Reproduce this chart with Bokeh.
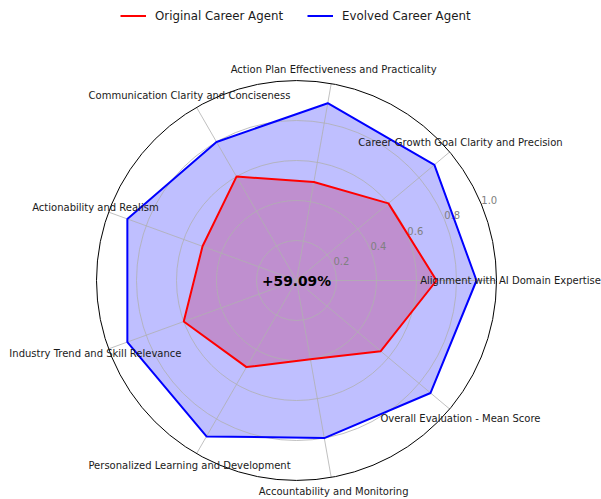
import numpy as np
from bokeh.plotting import figure
from bokeh.models import Range1d, Legend, LegendItem
from bokeh.core.properties import value
from bokeh.embed import file_html
from bokeh.resources import INLINE

categories = [
    "Alignment with AI Domain Expertise",
    "Career Growth Goal Clarity and Precision",
    "Action Plan Effectiveness and Practicality",
    "Communication Clarity and Conciseness",
    "Actionability and Realism",
    "Industry Trend and Skill Relevance",
    "Personalized Learning and Development",
    "Accountability and Monitoring",
    "Overall Evaluation - Mean Score",
]
original = [0.7, 0.6, 0.5, 0.6, 0.5, 0.6, 0.5, 0.4, 0.55]
evolved = [0.9, 0.9, 0.9, 0.8, 0.9, 0.9, 0.9, 0.8, 0.875]
r_ticks = [0.2, 0.4, 0.6, 0.8, 1.0]
r_tick_labels = ["0.2", "0.4", "0.6", "0.8", "1.0"]

W, H = 601, 499
scale = 200.0
cx_px, cy_px = 296, 280
x0 = -cx_px / scale
x1 = (W - cx_px) / scale
y1 = cy_px / scale
y0 = -(H - cy_px) / scale

p = figure(width=W, height=H, output_backend="svg", toolbar_location=None,
           x_range=Range1d(x0, x1), y_range=Range1d(y0, y1),
           x_axis_type=None, y_axis_type=None, min_border=0)
p.outline_line_color = None
p.background_fill_color = "white"
p.border_fill_color = "white"

n = len(categories)
ang = np.linspace(0, 2 * np.pi, n, endpoint=False)

def xy(vals):
    v = np.asarray(vals, dtype=float)
    return list(v * np.cos(ang)), list(v * np.sin(ang))

ox, oy = xy(original)
ex, ey = xy(evolved)

# fills
p.patch(ox, oy, fill_color="red", fill_alpha=0.25, line_color=None)
p.patch(ex, ey, fill_color="blue", fill_alpha=0.25, line_color=None)

# grid circles and spokes
for r in r_ticks[:-1]:
    p.circle(x=[0], y=[0], radius=r, fill_color=None, line_color="#b0b0b0", line_width=0.8)
p.segment(x0=[0] * n, y0=[0] * n, x1=list(np.cos(ang)), y1=list(np.sin(ang)),
          line_color="#b0b0b0", line_width=0.8)

# radial tick labels at 22.5 degrees
ra = np.deg2rad(22.5)
rt = np.asarray(r_ticks)
p.text(x=list(rt * np.cos(ra)), y=list(rt * np.sin(ra)), text=r_tick_labels,
       text_font=value("DejaVu Sans"), text_font_size="10px", text_color="#808080",
       text_align="left", text_baseline="alphabetic", y_offset=-4)

# outlines
r_orig = p.line(ox + [ox[0]], oy + [oy[0]], line_color="red", line_width=2)
r_evo = p.line(ex + [ex[0]], ey + [ey[0]], line_color="blue", line_width=2)

# outer spine
p.circle(x=[0], y=[0], radius=1.0, fill_color=None, line_color="black", line_width=1)

# category labels
lr = 1.07
lx = lr * np.cos(ang)
ly = lr * np.sin(ang)
p.text(x=list(lx), y=list(ly), text=categories,
       text_font=value("DejaVu Sans"), text_font_size="10px", text_color="#1a1a1a",
       text_align="center", text_baseline="middle")

# center improvement text
pct = (evolved[-1] - original[-1]) / original[-1] * 100
p.text(x=[0], y=[0], text=[f"+{pct:.2f}%"], text_font=value("DejaVu Sans"),
       text_font_size="13.8px", text_font_style="bold", text_color="black",
       text_align="center", text_baseline="middle")

legend = Legend(items=[LegendItem(label="Original Career Agent", renderers=[r_orig]),
                       LegendItem(label="Evolved Career Agent", renderers=[r_evo])],
                orientation="horizontal", location=(120, H - 23),
                glyph_width=26, glyph_height=15, label_height=15, label_standoff=9,
                spacing=24, padding=0, margin=0, border_line_color=None,
                background_fill_alpha=0, label_text_font="DejaVu Sans",
                label_text_font_size="11.8px", label_text_color="#1a1a1a")
p.add_layout(legend)

open("out.html", "w").write(file_html(p, INLINE))
